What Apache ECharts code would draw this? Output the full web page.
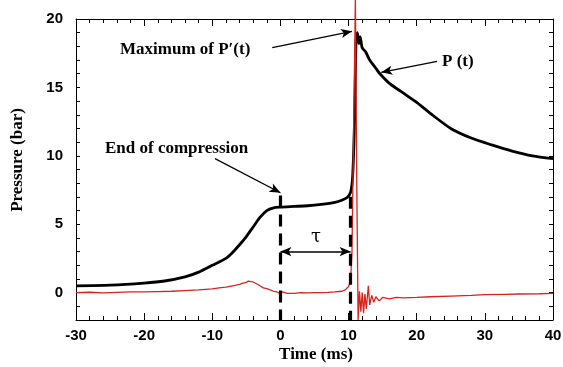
<!DOCTYPE html>
<html>
<head>
<meta charset="utf-8">
<script src="https://cdn.jsdelivr.net/npm/echarts@6/dist/echarts.min.js"></script>
<style>
  html, body { margin: 0; padding: 0; background: #fff; }
  #chart { width: 563px; height: 367px; }
</style>
</head>
<body>
<div id="chart"></div>
<script>
// tick labels
const xTicks = [-30, -20, -10, 0, 10, 20, 30, 40]
const yTicks = [0, 5, 10, 15, 20]

// P(t), black curve
const pTime = [-30, -25, -20, -17, -14, -12, -10, -8, -7, -6, -5, -4, -3, -2, -1, 0, 2, 4, 6, 8, 9, 9.8, 10.3, 10.6, 10.9, 11.1, 11.3, 11.5, 11.7, 12, 12.5, 13.1, 14, 14.6, 16, 18, 20, 22, 25, 28, 31, 34, 37, 40]
const pValue = [0.5, 0.55, 0.7, 0.85, 1.15, 1.5, 2.0, 2.5, 2.95, 3.5, 4.1, 4.8, 5.5, 6.0, 6.2, 6.25, 6.3, 6.35, 6.45, 6.6, 6.75, 6.95, 7.35, 8.5, 13, 18.5, 19.0, 18.2, 18.7, 17.9, 17.6, 17.0, 16.4, 16.0, 15.3, 14.6, 13.9, 13.1, 12.0, 11.3, 10.8, 10.35, 10.0, 9.8]

// P'(t), red curve
const dpTime = [-30, -28, -26, -24, -22, -20, -18, -16, -14, -12, -10, -9, -8, -7, -6, -5.5, -5, -4.7, -4.3, -4, -3.5, -3, -2.5, -2, -1.5, -1, -0.5, 0, 0.3, 1, 2, 3, 4, 5, 6, 7, 8, 9, 9.5, 10, 10.3, 10.5, 10.8, 11.0, 11.2, 11.4, 11.6, 11.8, 12.0, 12.2, 12.4, 12.6, 12.9, 13.1, 13.4, 13.7, 14, 14.5, 15, 16, 17, 18, 20, 22, 25, 28, 30, 33, 35, 38, 40]
const dpValue = [0.0, 0.03, -0.02, 0.02, 0.05, 0.05, 0.08, 0.1, 0.15, 0.2, 0.28, 0.35, 0.4, 0.5, 0.6, 0.7, 0.75, 0.85, 0.8, 0.78, 0.65, 0.5, 0.35, 0.3, 0.2, 0.1, 0.05, -0.08, 0.05, -0.05, -0.05, 0.0, -0.02, 0.0, 0.0, 0.02, 0.05, 0.1, 0.2, 0.45, 0.9, 3, 14, 21.5, 8, -2, 0.1, -1.4, 0.0, -1.5, -0.1, -1.2, 0.5, -0.9, -0.2, -0.7, -0.3, -0.6, -0.35, -0.45, -0.35, -0.38, -0.35, -0.3, -0.25, -0.2, -0.15, -0.12, -0.1, -0.08, -0.05]

const zip = (xs, ys) => xs.map((x, i) => [x, ys[i]])

const hidden = 'rgba(0,0,0,0)'
const sansBold = (color) => ({ fontFamily: 'Liberation Sans', fontWeight: 'bold', fontSize: 15, color })

// 四边框轴: 上/右轴标签透明, 轴名称改用 graphic 文本
const genXAxis = (position, labelColor) => ({
  type: 'value', position,
  min: xTicks[0], max: xTicks[xTicks.length - 1], interval: xTicks[1] - xTicks[0],
  splitLine: { show: false },
  axisLine: { show: true, onZero: false, lineStyle: { color: '#000' } },
  axisTick: { show: true, inside: true, length: 7, lineStyle: { color: '#000' } },
  minorTick: { show: true, splitNumber: 5, length: 4, lineStyle: { color: '#000' } },
  axisLabel: Object.assign({ margin: 8 }, sansBold(labelColor)),
})

const genYAxis = (position, labelColor) => ({
  type: 'value', position,
  min: -2, max: 20, interval: 1,
  splitLine: { show: false },
  axisLine: { show: true, onZero: false, lineStyle: { color: '#000' } },
  axisTick: { show: true, inside: true, length: 4, lineStyle: { color: '#000' } },
  axisLabel: Object.assign({ margin: 13, customValues: yTicks }, sansBold(labelColor)),
})

const chart = echarts.init(document.getElementById('chart'))

const arrowLine = (w) => ({ type: 'solid', width: w, color: '#000' })
const dashLine = () => ({ type: [12, 7], width: 3.2, color: '#000' })
const serifFont = 'bold 17px "Liberation Serif"'

chart.setOption({
  animation: false,
  grid: { left: 76, right: 10, top: 19, bottom: 47, outerBoundsMode: 'none' },
  xAxis: [genXAxis('bottom', '#000'), genXAxis('top', hidden)],
  yAxis: [genYAxis('left', '#000'), genYAxis('right', hidden)],
  series: [
    {
      name: "P'(t)", type: 'line', data: zip(dpTime, dpValue),
      showSymbol: false, clip: false,
      lineStyle: { color: '#d8231c', width: 1.3 },
      z: 3,
    },
    {
      name: 'P (t)', type: 'line', data: zip(pTime, pValue),
      showSymbol: false, smooth: 0.25,
      lineStyle: { color: '#000', width: 2.8 },
      z: 2,
      markLine: {
        silent: true, animation: false,
        label: { show: false },
        symbolSize: [7, 11],
        data: [
          // 虚线
          [{ coord: [0, 7.1], symbol: 'none', lineStyle: dashLine() }, { coord: [0, -2], symbol: 'none' }],
          [{ coord: [10.3, 7.0], symbol: 'none', lineStyle: dashLine() }, { coord: [10.3, -2], symbol: 'none' }],
          // τ 双箭头
          [{ coord: [0, 3.0], symbol: 'arrow', lineStyle: arrowLine(1.6) }, { coord: [10.3, 3.0], symbol: 'arrow' }],
          // 标注箭头
          [{ coord: [-1.2, 17.9], symbol: 'none', lineStyle: arrowLine(1.3) }, { coord: [10.5, 19.1], symbol: 'arrow' }],
          [{ coord: [23.0, 16.9], symbol: 'none', lineStyle: arrowLine(1.3) }, { coord: [14.8, 16.1], symbol: 'arrow' }],
          [{ coord: [-9.6, 9.8], symbol: 'none', lineStyle: arrowLine(1.3) }, { coord: [0, 7.3], symbol: 'arrow' }],
        ],
      },
    },
  ],
  graphic: [
    { type: 'text', x: 316, y: 355, style: { text: 'Time (ms)', font: serifFont, fill: '#000', align: 'center', verticalAlign: 'middle' } },
    { type: 'text', x: 18, y: 160, rotation: Math.PI / 2, style: { text: 'Pressure (bar)', font: serifFont, fill: '#000', align: 'center', verticalAlign: 'middle' } },
    { type: 'text', left: 120, top: 41, style: { text: 'Maximum of P′(t)', font: serifFont, fill: '#000' } },
    { type: 'text', left: 442, top: 53, style: { text: 'P (t)', font: serifFont, fill: '#000' } },
    { type: 'text', left: 105, top: 140, style: { text: 'End of compression', font: serifFont, fill: '#000' } },
    { type: 'text', left: 311, top: 228, style: { text: 'τ', font: '18px "DejaVu Serif"', fill: '#000' } },
  ],
})
</script>
</body>
</html>
